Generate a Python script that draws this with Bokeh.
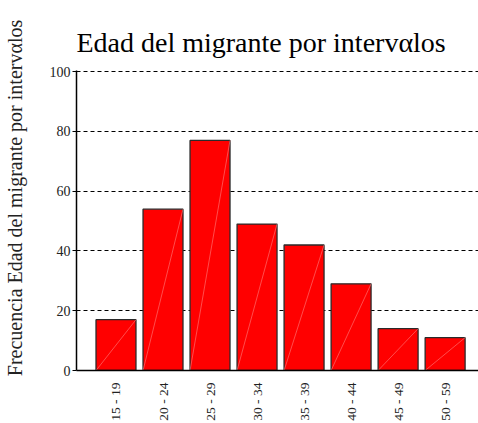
import math
from bokeh.plotting import figure
from bokeh.models import ColumnDataSource, Range1d, FixedTicker
from bokeh.embed import file_html
from bokeh.resources import INLINE

categories = ["15 - 19", "20 - 24", "25 - 29", "30 - 34", "35 - 39", "40 - 44", "45 - 49", "50 - 59"]
values = [17, 54, 77, 49, 42, 29, 14, 11]
y_ticks = [0, 20, 40, 60, 80, 100]

title_text = "Edad del migrante por intervαlos"
ylabel_text = "Frecuencia Edad del migrante por intervαlos"

FONT = "Liberation Serif"
bar_w = 0.85
xs = list(range(len(categories)))
src = ColumnDataSource(dict(
    x=xs, top=values,
    x0=[x - bar_w / 2 for x in xs], x1=[x + bar_w / 2 for x in xs],
    y0=[0] * len(xs),
))

p = figure(width=478, height=423, output_backend="svg", toolbar_location=None,
           x_range=Range1d(-0.84, 7.71), y_range=Range1d(0, 100.4),
           min_border_left=76, min_border_right=0, min_border_top=70, min_border_bottom=53)
p.title.text = title_text
p.title.text_font = FONT
p.title.text_font_size = "28px"
p.title.text_font_style = "normal"
p.title.text_color = "black"
p.title.align = "left"
p.title.standoff = 26
p.outline_line_color = None
p.background_fill_color = "white"
p.border_fill_color = "white"

p.vbar(x="x", top="top", width=bar_w, source=src, fill_color="#ff0000",
       line_color="#2a2a2a", line_width=1.3)
p.segment(x0="x0", y0="y0", x1="x1", y1="top", source=src,
          line_color="#ff8080", line_width=0.6)

p.xgrid.grid_line_color = None
p.ygrid.ticker = FixedTicker(ticks=y_ticks)
p.ygrid.grid_line_color = "black"
p.ygrid.grid_line_dash = "4 3"
p.ygrid.grid_line_width = 1

p.xaxis.ticker = FixedTicker(ticks=xs)
p.xaxis.major_label_overrides = {i: c for i, c in enumerate(categories)}
p.xaxis.major_label_orientation = math.pi / 2
p.xaxis.major_tick_line_color = None
p.xaxis.minor_tick_line_color = None
p.xaxis.major_label_text_font = FONT
p.xaxis.major_label_text_font_size = "13.5px"
p.xaxis.major_label_text_color = "#222222"
p.xaxis.major_label_standoff = 6
p.xaxis.axis_line_color = "black"
p.xaxis.axis_line_width = 1.5

p.yaxis.ticker = FixedTicker(ticks=y_ticks)
p.yaxis.major_tick_out = 4
p.yaxis.major_tick_in = 0
p.yaxis.minor_tick_line_color = None
p.yaxis.major_label_text_font = FONT
p.yaxis.major_label_text_font_size = "14px"
p.yaxis.major_label_text_color = "#222222"
p.yaxis.major_label_standoff = 2
p.yaxis.axis_line_color = "black"
p.yaxis.axis_line_width = 1.5
p.yaxis.axis_label = "\u00a0" * 9 + ylabel_text
p.yaxis.axis_label_text_font = FONT
p.yaxis.axis_label_text_font_size = "20px"
p.yaxis.axis_label_text_font_style = "normal"
p.yaxis.axis_label_text_color = "#222222"
p.yaxis.axis_label_standoff = 21

open("out.html", "w").write(file_html(p, INLINE))
